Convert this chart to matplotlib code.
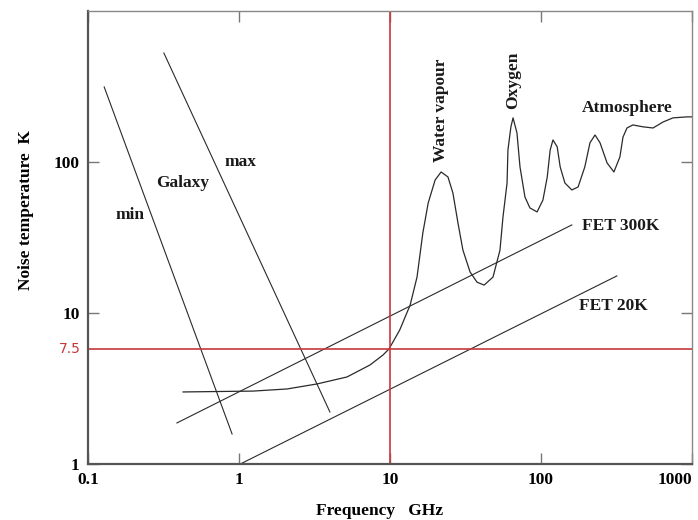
import matplotlib
matplotlib.use("Agg")
import matplotlib.pyplot as plt

# ---- data ----
atm_freq = [0.426, 1.24, 2.08, 3.29, 5.19, 7.38, 8.99, 9.85, 11.6, 13.6, 15.1, 16.5,
            17.9, 19.9, 21.8, 24.2, 26.1, 28.2, 30.4, 33.9, 37.7, 42.0, 48.1, 53.5,
            56.0, 59.6, 60.4, 63.2, 65.3, 69.3, 72.6, 78.3, 84.5, 94.2, 103, 110,
            115, 120, 128, 134, 144, 160, 176, 195, 211, 228, 246, 274, 304, 333,
            349, 371, 406, 473, 552, 643, 748, 927, 1000]
atm_temp = [3.0, 3.04, 3.14, 3.39, 3.77, 4.53, 5.27, 5.78, 7.72, 11.3, 17.3, 33.9,
            53.5, 76, 85.9, 79.6, 62.3, 39.4, 26.1, 18.7, 16.0, 15.3, 17.3, 26.1,
            43.2, 72.6, 120, 171, 196, 156, 92.7, 58.6, 49.6, 46.7, 56.0, 79.6,
            120, 140, 126, 92.7, 72.6, 65.3, 68.3, 92.7, 134, 151, 134, 98.5, 85.9, 108,
            146, 168, 176, 171, 168, 184, 196, 199, 199]

galaxy_min_freq = [0.128, 0.90]
galaxy_min_temp = [314, 1.58]
galaxy_max_freq = [0.318, 4.0]
galaxy_max_temp = [527, 2.21]
fet300_freq = [0.388, 160]
fet300_temp = [1.87, 38.3]
fet20_freq = [1.02, 318]
fet20_temp = [1.0, 17.6]

ref_freq = 10
ref_temp_pos = 5.8
ref_temp_label = "7.5"

x_ticks = [0.1, 1, 10, 100, 1000]
x_tick_labels = ["0.1", "1", "10", "100", "1000"]
y_ticks = [1, 10, 100]
y_tick_labels = ["1", "10", "100"]

# ---- figure ----
serif = ["Liberation Serif", "DejaVu Serif"]
red = "#c8373a"
fig = plt.figure(figsize=(6.98, 5.2), dpi=100)
ax = fig.add_axes([88/698, 56/520, 604/698, 453/520])
ax.set_xscale("log")
ax.set_yscale("log")
ax.set_xlim(0.1, 1000)
ax.set_ylim(1, 1000)

lc = "#2a2a2a"
ax.plot(atm_freq, atm_temp, color=lc, lw=0.9)
ax.plot(galaxy_min_freq, galaxy_min_temp, color=lc, lw=0.8)
ax.plot(galaxy_max_freq, galaxy_max_temp, color=lc, lw=0.8)
ax.plot(fet300_freq, fet300_temp, color=lc, lw=0.8)
ax.plot(fet20_freq, fet20_temp, color=lc, lw=0.8)

ax.axvline(ref_freq, color=red, lw=1.2)
ax.axhline(ref_temp_pos, color=red, lw=1.2)

ax.minorticks_off()
ax.set_xticks(x_ticks)
ax.set_xticklabels(x_tick_labels)
ax.set_yticks(y_ticks)
ax.set_yticklabels(y_tick_labels)
ax.tick_params(axis="both", which="major", direction="in", length=8, width=1,
               color="#777777", top=True, right=True, labelsize=12.5, pad=6)
for lab in ax.get_xticklabels() + ax.get_yticklabels():
    lab.set_family(serif)
    lab.set_fontweight("bold")
ax.get_xticklabels()[-1].set_horizontalalignment("right")
ax.text(-0.012, ref_temp_pos, ref_temp_label, transform=ax.get_yaxis_transform(),
        ha="right", va="center", color=red, fontsize=10, family=["DejaVu Sans"])

for side in ["left", "bottom"]:
    ax.spines[side].set_linewidth(1.6)
    ax.spines[side].set_color("#555555")
for side in ["top", "right"]:
    ax.spines[side].set_linewidth(1.0)
    ax.spines[side].set_color("#888888")

tk = dict(family=serif, fontweight="bold", fontsize=12.5, color="#1a1a1a")
ax.text(0.19, 44.6, "min", ha="center", va="center", **tk)
ax.text(0.426, 72.6, "Galaxy", ha="center", va="center", **tk)
ax.text(1.02, 100, "max", ha="center", va="center", **tk)
ax.text(21.8, 221, "Water vapour", ha="center", va="center", rotation=90, **tk)
ax.text(65.3, 349, "Oxygen", ha="center", va="center", rotation=90, **tk)
ax.text(371, 228, "Atmosphere", ha="center", va="center", **tk)
ax.text(187, 37.7, "FET 300K", ha="left", va="center", **tk)
ax.text(179, 11.1, "FET 20K", ha="left", va="center", **tk)

ax.set_xlabel("Frequency   GHz", family=serif, fontweight="bold", fontsize=12.5)
ax.set_ylabel("Noise temperature  K", family=serif, fontweight="bold", fontsize=12.5)
ax.xaxis.set_label_coords(0.483, -0.085)
ax.yaxis.set_label_coords(-0.089, 0.56)

fig.savefig("out.png", dpi=100)
